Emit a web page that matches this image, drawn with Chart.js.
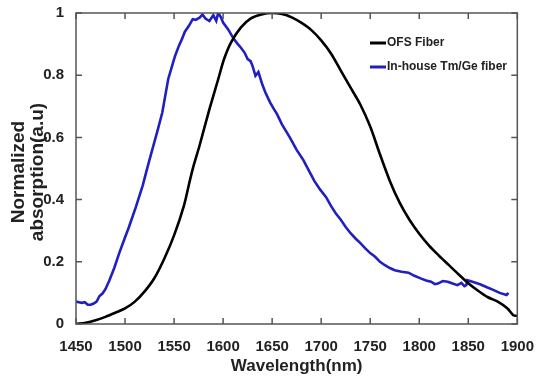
<!DOCTYPE html>
<html>
<head>
<meta charset="utf-8">
<script src="https://cdn.jsdelivr.net/npm/chart.js@4"></script>
<style>
  html, body { margin: 0; padding: 0; background: #fff; }
  #wrap { width: 540px; height: 381px; }
</style>
</head>
<body>
<div id="wrap"><canvas id="absGraph"></canvas></div>
<script>
// OFS fiber (black)
const ofsWave = [1450, 1460, 1470, 1480, 1490, 1500, 1510, 1520, 1530, 1540, 1550, 1560, 1566, 1570, 1576, 1586, 1595, 1601, 1608, 1618, 1628, 1640, 1650, 1660, 1670, 1680, 1690, 1700, 1710, 1720, 1730, 1740, 1750, 1760, 1770, 1780, 1790, 1800, 1810, 1820, 1830, 1840, 1850, 1860, 1870, 1880, 1890, 1896, 1900];
const ofsAbs = [0.0, 0.004, 0.012, 0.023, 0.036, 0.05, 0.072, 0.105, 0.148, 0.21, 0.285, 0.38, 0.46, 0.51, 0.574, 0.69, 0.787, 0.852, 0.905, 0.953, 0.982, 0.996, 1.0, 0.997, 0.986, 0.968, 0.945, 0.912, 0.87, 0.815, 0.76, 0.705, 0.635, 0.545, 0.46, 0.39, 0.335, 0.29, 0.252, 0.22, 0.19, 0.16, 0.131, 0.107, 0.086, 0.072, 0.05, 0.028, 0.026];

// In-house Tm/Ge fiber (blue)
const tmWave = [1450, 1453, 1456, 1459, 1462, 1465, 1468, 1471, 1474, 1477, 1480, 1484, 1489, 1494, 1499, 1504, 1511, 1518, 1523, 1528, 1533, 1538, 1544, 1548, 1551, 1555, 1558, 1561, 1565, 1569, 1572, 1576, 1579, 1582, 1586, 1590, 1593, 1595, 1598, 1600, 1605, 1611, 1615, 1618, 1622, 1625, 1628, 1630, 1633, 1636, 1640, 1643, 1648, 1652, 1655, 1660, 1668, 1675, 1682, 1688, 1693, 1699, 1705, 1710, 1715, 1720, 1725, 1730, 1735, 1740, 1745, 1750, 1755, 1760, 1765, 1770, 1775, 1782, 1789, 1795, 1802, 1807, 1812, 1816, 1819, 1824, 1829, 1834, 1839, 1843, 1846, 1848, 1849, 1855, 1862, 1869, 1876, 1882, 1889, 1891];
const tmAbs = [0.072, 0.07, 0.068, 0.07, 0.062, 0.062, 0.066, 0.072, 0.09, 0.098, 0.112, 0.14, 0.18, 0.227, 0.27, 0.312, 0.376, 0.445, 0.505, 0.563, 0.62, 0.68, 0.787, 0.83, 0.862, 0.895, 0.916, 0.94, 0.958, 0.98, 0.978, 0.985, 0.995, 0.982, 0.974, 0.993, 0.975, 1.0, 0.985, 0.969, 0.948, 0.916, 0.9, 0.889, 0.872, 0.852, 0.845, 0.83, 0.798, 0.81, 0.77, 0.745, 0.712, 0.69, 0.675, 0.642, 0.6, 0.56, 0.526, 0.49, 0.46, 0.432, 0.408, 0.38, 0.355, 0.335, 0.312, 0.292, 0.275, 0.26, 0.243, 0.228, 0.216, 0.2, 0.189, 0.18, 0.173, 0.168, 0.165, 0.155, 0.146, 0.14, 0.136, 0.128, 0.13, 0.138, 0.136, 0.13, 0.125, 0.132, 0.122, 0.125, 0.141, 0.135, 0.128, 0.118, 0.109, 0.1, 0.093, 0.1];

const seriesNames = ["OFS Fiber", "In-house Tm/Ge fiber"];
const xTitle = "Wavelength(nm)";
const yTitle = ["Normalized", "absorption(a.u)"];

const fontFam = "'Liberation Sans', Arial, sans-serif";

function toPoints(xs, ys) {
    return xs.map((x, i) => ({ x: x, y: ys[i] }));
}

// กรอบ, ขีดสเกลด้านใน, ชื่อแกน y, legend
const framePlugin = {
    id: "frame",
    afterDraw(chart) {
        const { ctx, chartArea: a, scales } = chart;
        ctx.save();
        ctx.strokeStyle = "#555";
        ctx.lineWidth = 1.5;
        ctx.strokeRect(a.left, a.top, a.right - a.left, a.bottom - a.top);
        ctx.beginPath();
        scales.x.ticks.forEach(t => {
            const px = scales.x.getPixelForValue(t.value);
            ctx.moveTo(px, a.bottom); ctx.lineTo(px, a.bottom - 6);
            ctx.moveTo(px, a.top); ctx.lineTo(px, a.top + 6);
        });
        scales.y.ticks.forEach(t => {
            const py = scales.y.getPixelForValue(t.value);
            ctx.moveTo(a.left, py); ctx.lineTo(a.left + 6, py);
            ctx.moveTo(a.right, py); ctx.lineTo(a.right - 6, py);
        });
        ctx.stroke();

        // y title
        ctx.fillStyle = "#222";
        ctx.font = "bold 19px " + fontFam;
        ctx.textAlign = "center";
        ctx.textBaseline = "middle";
        ctx.translate(0, 172);
        ctx.rotate(-Math.PI / 2);
        ctx.fillText(yTitle[0], 0, 19);
        ctx.fillText(yTitle[1], 0, 38);
        ctx.restore();

        // legend
        ctx.save();
        ctx.font = "bold 12px " + fontFam;
        ctx.textBaseline = "middle";
        ctx.textAlign = "left";
        chart.data.datasets.forEach((ds, i) => {
            const y = 43 + i * 24;
            ctx.strokeStyle = ds.borderColor;
            ctx.lineWidth = 3;
            ctx.beginPath();
            ctx.moveTo(370, y); ctx.lineTo(386, y);
            ctx.stroke();
            ctx.fillStyle = "#222";
            ctx.fillText(ds.label, 387, y);
        });
        ctx.restore();
    }
};

const ctx = document.getElementById("absGraph").getContext("2d");
new Chart(ctx, {
    type: "line",
    data: {
        datasets: [
            {
                label: seriesNames[0],
                data: toPoints(ofsWave, ofsAbs),
                borderColor: "#000000",
                backgroundColor: "#000000",
                borderWidth: 2.6,
                pointRadius: 0,
                tension: 0.3
            },
            {
                label: seriesNames[1],
                data: toPoints(tmWave, tmAbs),
                borderColor: "#2020c0",
                backgroundColor: "#2020c0",
                borderWidth: 2.6,
                pointRadius: 0,
                tension: 0
            }
        ]
    },
    options: {
        responsive: true,
        maintainAspectRatio: false,
        animation: false,
        layout: { padding: { top: 12, right: 16, left: 0, bottom: 0 } },
        scales: {
            x: {
                type: "linear",
                min: 1450,
                max: 1900,
                grid: { display: false },
                border: { display: false },
                ticks: {
                    stepSize: 50, padding: 6, color: "#222",
                    font: { family: fontFam, size: 15, weight: "bold" },
                    callback: v => String(v)
                },
                title: { display: true, text: xTitle, color: "#222", padding: { top: 2, bottom: 4 }, font: { family: fontFam, size: 17, weight: "bold" } },
                afterFit(scale) { scale.height = 57; }
            },
            y: {
                min: 0,
                max: 1,
                grid: { display: false },
                border: { display: false },
                ticks: {
                    stepSize: 0.2, padding: 4, color: "#222",
                    font: { family: fontFam, size: 15, weight: "bold" },
                    callback: v => String(Math.round(v * 10) / 10)
                },
                afterFit(scale) { scale.width = 76; }
            }
        },
        plugins: {
            legend: { display: false },
            tooltip: { enabled: false }
        }
    },
    plugins: [framePlugin]
});
</script>
</body>
</html>
